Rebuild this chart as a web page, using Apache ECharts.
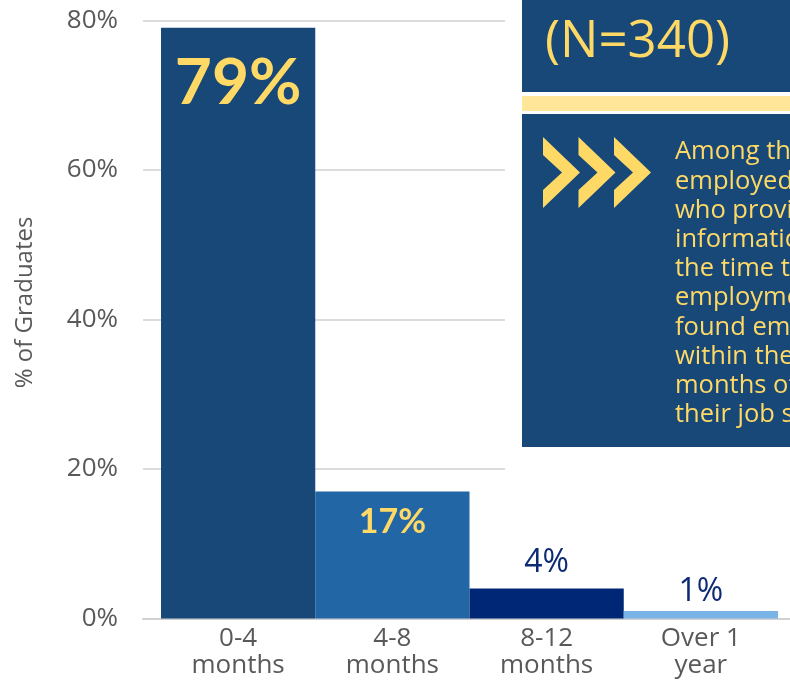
<!DOCTYPE html>
<html>
<head>
<meta charset="utf-8">
<script src="https://cdn.jsdelivr.net/npm/echarts@6/dist/echarts.min.js"></script>
<style>html,body{margin:0;padding:0;background:#fff}#c{width:790px;height:681px}</style>
</head>
<body>
<div id="c"></div>
<script>
const categories = ['0-4\nmonths', '4-8\nmonths', '8-12\nmonths', 'Over 1\nyear'];
const values = [79, 17, 4, 1];
const barColors = ['#174878', '#2266a5', '#002776', '#7ab4e6'];
const yTicks = [0, 20, 40, 60, 80];
const yAxisTitle = '% of Graduates';
const nLabel = '(N=340)';
const noteLines = ['Among those', 'employed graduates', 'who provided', 'information about', 'the time to find', 'employment, 79%', 'found employment', 'within the first 4', 'months of starting', 'their job search.'];

const FONT = '"Open Sans", "Noto Sans", sans-serif';
const YELLOW = '#ffd966';
const GRID_TOP = 20.3, GRID_H = 598.2;

const labelStyles = [
  {position: 'insideTop', distance: 24, fontSize: 64, fontWeight: 'bold', color: YELLOW, fontFamily: 'Lato, ' + FONT},
  {position: 'insideTop', distance: 14, fontSize: 34, fontWeight: 'bold', color: YELLOW, fontFamily: 'Lato, ' + FONT},
  {position: 'top', distance: 10, fontSize: 32, color: '#0d2b74', fontFamily: FONT},
  {position: 'top', distance: 3, fontSize: 32, color: '#0d2b74', fontFamily: FONT}
];

function chevron(x) {
  return {type: 'polygon', z: 100, shape: {points: [[x, 137], [x + 37, 172.5], [x, 208], [x, 190], [x + 19, 172.5], [x, 155]]}, style: {fill: YELLOW}};
}

const chart = echarts.init(document.getElementById('c'), null, {renderer: 'canvas'});
chart.setOption({
  animation: false,
  textStyle: {fontFamily: FONT},
  grid: [
    {left: 143, right: 285, top: GRID_TOP, height: GRID_H},
    {left: 161, right: 12, top: GRID_TOP, height: GRID_H},
    {left: 143, right: 0, top: GRID_TOP, height: GRID_H}
  ],
  xAxis: [
    {gridIndex: 0, type: 'value', show: false},
    {gridIndex: 1, type: 'category', data: categories,
     axisLine: {show: false}, axisTick: {show: false},
     axisLabel: {fontSize: 26, lineHeight: 27, color: '#595959', margin: 7, fontFamily: FONT}},
    {gridIndex: 2, type: 'value', min: 0, max: 1, axisLabel: {show: false}, axisTick: {show: false}, splitLine: {show: false},
     axisLine: {show: true, lineStyle: {color: '#d0d0d0', width: 2}}}
  ],
  yAxis: [
    {gridIndex: 0, type: 'value', min: yTicks[0], max: yTicks[yTicks.length - 1], interval: 20,
     axisLine: {show: false}, axisTick: {show: false},
     axisLabel: {formatter: '{value}%', fontSize: 26, color: '#595959', margin: 25, fontFamily: FONT},
     splitLine: {lineStyle: {color: '#d0d0d0', width: 1.5}},
     name: yAxisTitle, nameLocation: 'middle', nameGap: 106, nameRotate: 90,
     nameTextStyle: {fontSize: 24, color: '#595959', fontFamily: FONT, padding: [0, 0, 0, 34]}},
    {gridIndex: 1, type: 'value', min: 0, max: 80, show: false},
    {gridIndex: 2, type: 'value', min: 0, max: 80, show: false}
  ],
  series: [{
    type: 'bar', xAxisIndex: 1, yAxisIndex: 1, barCategoryGap: 0, z: 5,
    data: values.map((v, i) => ({value: v, itemStyle: {color: barColors[i]}, label: labelStyles[i]})),
    label: {show: true, formatter: '{c}%'}
  }],
  graphic: [
    {type: 'rect', z: 90, shape: {x: 522, y: 0, width: 268, height: 92}, style: {fill: '#174878'}},
    {type: 'rect', z: 90, shape: {x: 522, y: 96, width: 268, height: 15}, style: {fill: '#ffe699'}},
    {type: 'rect', z: 90, shape: {x: 522, y: 114, width: 268, height: 333}, style: {fill: '#174878'}},
    {type: 'text', z: 100, x: 545, y: 42, style: {text: nLabel, fill: YELLOW, font: '51px ' + FONT, verticalAlign: 'middle'}},
    chevron(543), chevron(578.5), chevron(614),
    {type: 'text', z: 100, x: 675, y: 137.5, style: {text: noteLines.join('\n'), fill: YELLOW, fontSize: 25.5, lineHeight: 29.2, fontFamily: FONT, verticalAlign: 'top'}}
  ]
});
</script>
</body>
</html>
